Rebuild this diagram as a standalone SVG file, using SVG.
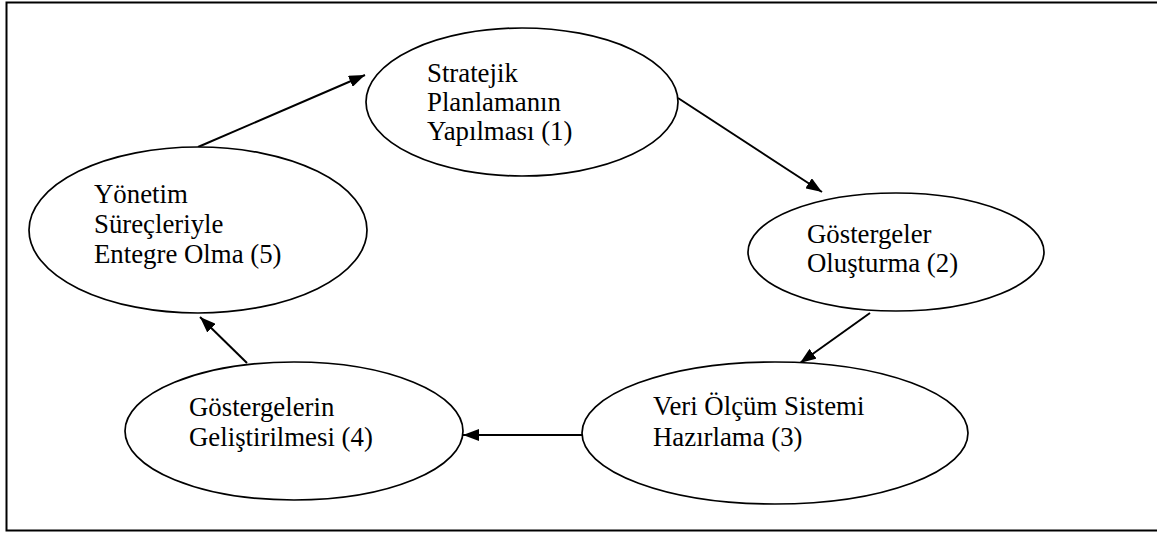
<svg xmlns="http://www.w3.org/2000/svg" width="1157" height="534" viewBox="0 0 1157 534">
<style>
.n{fill:#fff;stroke:#000;stroke-width:1.7}
.t{font-family:"Liberation Serif","Times New Roman",serif;font-size:26.8px;fill:#000}
.c{stroke:#000;stroke-width:2;fill:none;marker-end:url(#ah)}
</style>
<defs>
<marker id="ah" viewBox="0 0 16 12" refX="16" refY="6" markerWidth="16" markerHeight="12" markerUnits="userSpaceOnUse" orient="auto">
<path d="M0,0 L16,6 L0,12 Z" fill="#000"/>
</marker>
</defs>
<rect x="6.5" y="2.5" width="1160" height="528" fill="#fff" stroke="#000" stroke-width="2"/>
<g id="connectors">
<line class="c" x1="198" y1="147" x2="365" y2="75"/>
<line class="c" x1="678" y1="98" x2="822" y2="192"/>
<line class="c" x1="870" y1="313" x2="800" y2="363"/>
<line class="c" x1="583" y1="435" x2="463" y2="435"/>
<line class="c" x1="247" y1="363" x2="200" y2="317"/>
</g>
<g id="node1">
<ellipse class="n" cx="522" cy="102" rx="156" ry="74"/>
<text class="t" x="427" y="82">Stratejik</text>
<text class="t" x="427" y="111">Planlamanın</text>
<text class="t" x="427" y="140">Yapılması (1)</text>
</g>
<g id="node2">
<ellipse class="n" cx="896" cy="252" rx="148" ry="59"/>
<text class="t" x="807" y="243">Göstergeler</text>
<text class="t" x="807" y="272">Oluşturma (2)</text>
</g>
<g id="node3">
<ellipse class="n" cx="775" cy="433" rx="193" ry="71"/>
<text class="t" x="653" y="415">Veri Ölçüm Sistemi</text>
<text class="t" x="653" y="446">Hazırlama (3)</text>
</g>
<g id="node4">
<ellipse class="n" cx="294" cy="431" rx="169" ry="69"/>
<text class="t" x="189" y="416">Göstergelerin</text>
<text class="t" x="189" y="446">Geliştirilmesi (4)</text>
</g>
<g id="node5">
<ellipse class="n" cx="198" cy="230" rx="169" ry="83"/>
<text class="t" x="94" y="203">Yönetim</text>
<text class="t" x="94" y="233">Süreçleriyle</text>
<text class="t" x="94" y="263">Entegre Olma (5)</text>
</g>
</svg>
